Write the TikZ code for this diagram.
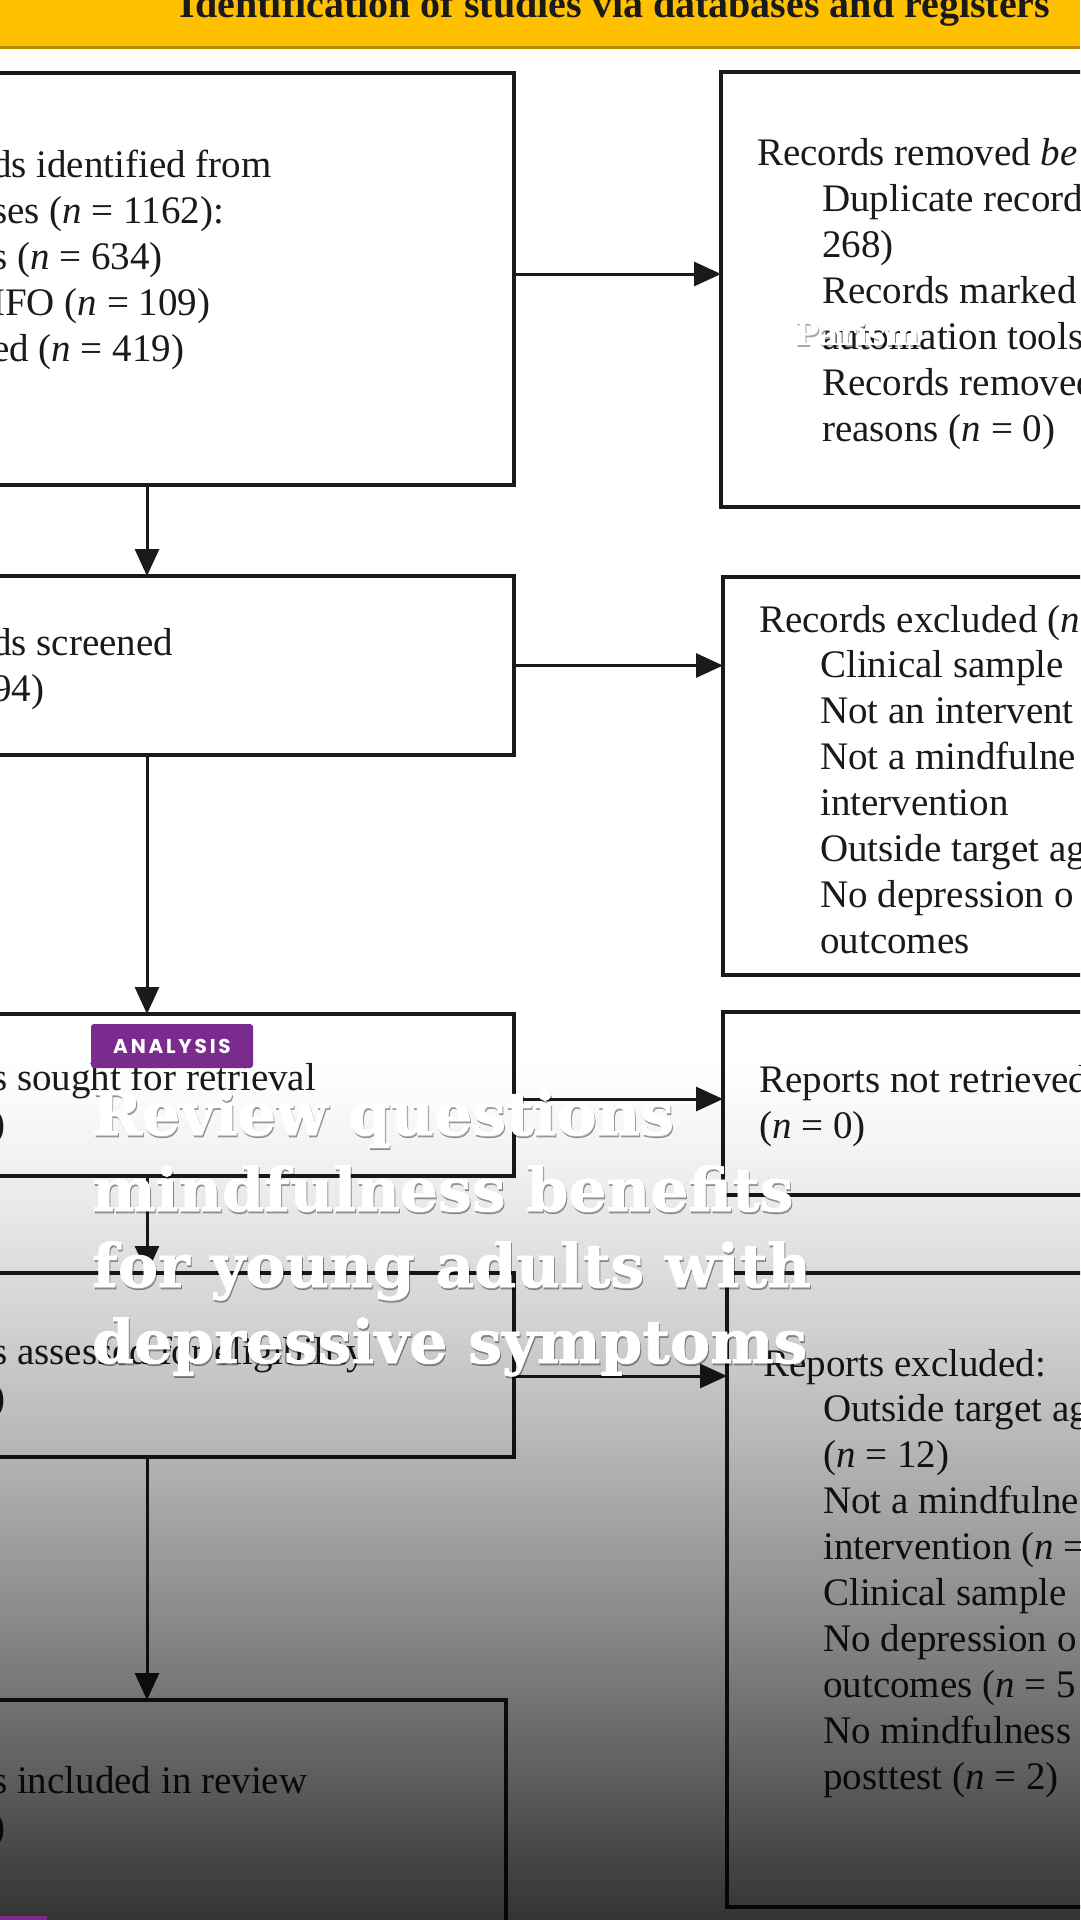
\documentclass[tikz,border=0pt]{standalone}
\usepackage{fontspec}
\setmainfont{Liberation Serif}
\newfontfamily\headfont{DejaVu Serif Bold}[FakeBold=1.2]
\newfontfamily\markfont{DejaVu Serif Bold}
\newfontfamily\badgefont[LetterSpace=14]{Poppins}
\usetikzlibrary{arrows.meta,positioning}
\definecolor{bandyellow}{HTML}{FFC000}
\definecolor{bandedge}{HTML}{B88A00}
\definecolor{tagpurple}{HTML}{7A2B8D}
\definecolor{inkgray}{HTML}{1A1A1A}

\begin{document}
\begin{tikzpicture}[
  x=1pt, y=-1pt,
  box/.style={draw=inkgray, line width=4.5pt, anchor=north west, inner sep=0pt, outer sep=0pt},
  % multi-line texts: the given point is the baseline of the last line
  txt/.style={anchor=base west, align=left, inner sep=0pt, text=inkgray,
              font=\fontsize{39}{46}\selectfont},
  arr/.style={-{Triangle[length=27pt,width=24pt]}, line width=3pt, draw=inkgray},
  head/.style={anchor=base west, align=left, inner sep=0pt,
               font=\headfont\fontsize{60}{76}\selectfont},
  badge/.style={fill=tagpurple, rounded corners=3pt, text=white, inner sep=0pt,
                minimum width=162pt, minimum height=44pt,
                font=\badgefont\bfseries\fontsize{20}{24}\selectfont},
]
\useasboundingbox (0,0) rectangle (1080,1920);
\clip (0,0) rectangle (1080,1920);
\fill[white] (0,0) rectangle (1080,1920);

% ---------- title band ----------
\fill[bandyellow] (0,0) rectangle (1080,47);
\draw[bandedge, line width=3pt] (0,47.5) -- (1080,47.5);
\node[anchor=base, inner sep=0pt, text=inkgray,
      font=\bfseries\fontsize{40}{48}\selectfont] (title) at (615,17)
  {Identification of studies via databases and registers};

% ---------- boxes ----------
\node[box, minimum width=554pt, minimum height=412pt] (idbox) at (-40,73) {};
\node[box, minimum width=420pt, minimum height=435pt] (rmbox) at (721,72) {};
\node[box, minimum width=554pt, minimum height=179pt] (scrbox) at (-40,576) {};
\node[box, minimum width=420pt, minimum height=398pt] (exbox) at (723,577) {};
\node[box, minimum width=554pt, minimum height=162pt] (soughtbox) at (-40,1014) {};
\node[box, minimum width=420pt, minimum height=183pt] (nrbox) at (723,1012) {};
\node[box, minimum width=554pt, minimum height=184pt] (elbox) at (-40,1273) {};
\node[box, minimum width=420pt, minimum height=634pt] (repbox) at (727,1273) {};
\node[box, minimum width=546pt, minimum height=300pt] (inclbox) at (-40,1700) {};

% ---------- box texts ----------
\node[txt] (idtxt) at (-8,361) {ds identified from\\ses (\textit{n} = 1162):\\s (\textit{n} = 634)\\IFO (\textit{n} = 109)\\ed (\textit{n} = 419)};
\node[txt] (rmhead) at (757,165) {Records removed \textit{be}};
\node[txt] (rmlist) at (822,441) {Duplicate record\\268)\\Records marked\\automation tools\\Records removed\\reasons (\textit{n} = 0)};

\node[txt] (scrtxt) at (-8,701) {ds screened\\94)};
\node[txt] (exhead) at (759,632) {Records excluded (\textit{n}};
\node[txt] (exlist) at (820,953) {Clinical sample\\Not an intervent\\Not a mindfulne\\intervention\\Outside target ag\\No depression o\\outcomes};

\node[txt] (soughttxt) at (-8,1136) {s sought for retrieval\\)};
\node[txt] (nrtxt) at (759,1138) {Reports not retrieved\\(\textit{n} = 0)};

\node[txt] (eltxt) at (-8,1410) {s assessed for eligibility\\)};
\node[txt] (rephead) at (763,1376) {Reports excluded:};
\node[txt] (replist) at (823,1789) {Outside target ag\\(\textit{n} = 12)\\Not a mindfulne\\intervention (\textit{n} =\\Clinical sample\\No depression o\\outcomes (\textit{n} = 5\\No mindfulness\\posttest (\textit{n} = 2)};

\node[txt] (incltxt) at (-8,1839) {s included in review\\)};

% ---------- arrows ----------
\coordinate (col) at (147,0);
\draw[arr] ([yshift=5pt]idbox.east) -- ([yshift=5pt]idbox.east -| rmbox.west);
\draw[arr] (idbox.south -| col) -- (scrbox.north -| col);
\draw[arr] (scrbox.east) -- (scrbox.east -| exbox.west);
\draw[arr] (scrbox.south -| col) -- (soughtbox.north -| col);
\draw[arr] ([yshift=-4pt]soughtbox.east) -- ([yshift=-4pt]soughtbox.east -| nrbox.west);
\draw[arr] (soughtbox.south -| col) -- (elbox.north -| col);
\draw[arr] ([yshift=-11pt]elbox.east) -- ([yshift=-11pt]elbox.east -| repbox.west);
\draw[arr] (elbox.south -| col) -- (inclbox.north -| col);

% ---------- white mark over the first box ----------
\node[anchor=base west, inner sep=0pt, text=black, opacity=.35,
      font=\markfont\fontsize{32}{36}\selectfont] (wmarkshadow) at (796,347) {Parism};
\node[anchor=base west, inner sep=0pt, text=white,
      font=\markfont\fontsize{32}{36}\selectfont] (wmark) at (795,345) {Parism};

% ---------- dark fade at the bottom ----------
\foreach \yy in {1050,1055,...,1915}{
  \pgfmathsetmacro\al{0.8*((\yy+2.5-1050)/870)^1.3}
  \fill[black, fill opacity=\al] (0,\yy) rectangle (1080,\yy+5);
}

% ---------- headline and tag ----------
\node[head, text=black, opacity=.3] (headshadow) at (93,1365)
  {Review questions\\mindfulness benefits\\for young adults with\\depressive symptoms};
\node[head, text=white] (headline) at (92,1363)
  {Review questions\\mindfulness benefits\\for young adults with\\depressive symptoms};
\node[badge] (tag) at (172,1046) {ANALYSIS};
\fill[tagpurple] (0,1916) rectangle (47,1920);
\end{tikzpicture}
\end{document}
